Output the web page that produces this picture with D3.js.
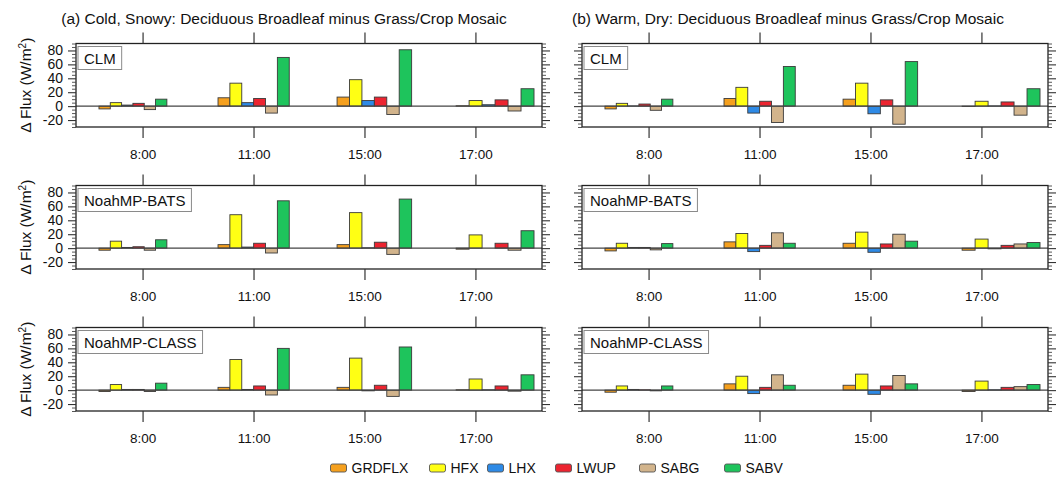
<!DOCTYPE html>
<html>
<head>
<meta charset="utf-8">
<script src="https://cdn.jsdelivr.net/npm/d3@7"></script>
<style>
  html, body { margin: 0; padding: 0; background: #fff; }
  svg { display: block; font-family: "Liberation Sans", Arial, Helvetica, sans-serif; }
</style>
</head>
<body>
<svg id="chart" width="1056" height="478"></svg>
<script>
// ---------------- DATA ----------------
const categories = ["8:00", "11:00", "15:00", "17:00"];
const seriesNames = ["GRDFLX", "HFX", "LHX", "LWUP", "SABG", "SABV"];
const seriesColors = ["#F5A01E", "#FFFF14", "#2E8AE6", "#EC2430", "#D2B48C", "#1EC45C"];
const models = ["CLM", "NoahMP-BATS", "NoahMP-CLASS"];
const panelTitles = [
  "(a) Cold, Snowy: Deciduous Broadleaf minus Grass/Crop Mosaic",
  "(b) Warm, Dry: Deciduous Broadleaf minus Grass/Crop Mosaic"
];
const yTickValues = [-20, 0, 20, 40, 60, 80];
const yDomain = [-30, 90];

// values: rows = series (GRDFLX, HFX, LHX, LWUP, SABG, SABV), columns = categories
const coldCLM = [
  [-4, 12, 13, 0.5],
  [5, 33, 38, 8],
  [1.5, 5, 8, 2],
  [4, 11, 13, 9],
  [-5, -10, -12, -7],
  [10, 70, 81, 25]
];
const coldBATS = [
  [-3, 5, 5, -1.5],
  [10, 48, 51, 19],
  [1, 1.5, 0.5, 0],
  [2, 7, 8.5, 7],
  [-3, -7, -9, -3],
  [12, 68, 70.5, 25]
];
const coldCLASS = [
  [-2, 4, 4, 0.5],
  [8, 44, 46, 16],
  [1, 1, -1, 0.5],
  [1, 6, 7, 6],
  [-2, -7, -9, -1.5],
  [10, 60, 62, 22]
];
const warmCLM = [
  [-4, 11, 10, -0.5],
  [4, 27, 33, 7],
  [0.3, -10, -11, 0.3],
  [3, 7, 9, 6],
  [-6, -23.5, -26, -13],
  [10, 57, 64, 25]
];
const warmBATS = [
  [-4, 9, 7, -3],
  [7, 21, 23, 13],
  [1, -5, -6, -1],
  [1, 4, 6, 4],
  [-2.5, 22, 20, 6],
  [6.5, 7, 10, 8]
];
const warmCLASS = [
  [-3, 9, 7, -2],
  [6, 20, 23, 13],
  [1, -5, -6, 0.5],
  [0.5, 4, 6, 4],
  [-1, 22, 21, 5],
  [6, 7, 9, 8]
];
const panelData = [
  [coldCLM, coldBATS, coldCLASS],
  [warmCLM, warmBATS, warmCLASS]
];

// ---------------- LAYOUT ----------------
const panelX = [76, 582];
const panelW = 466;
const rowY = [43.5, 185.5, 327.5];
const panelH = 83.5;
const xAxisDomain = [0.4, 4.6];          // categories sit at 1..4
const groupStart0 = 0.607, groupStep = 1.073;   // bar group layout (axis units)
const barW0 = 0.102, barWStep = 0.005;
const legendX = [330, 429, 487, 555, 639, 724];
const legendY = 468;

const svg = d3.select("#chart");
const font = '"Liberation Sans", Arial, Helvetica, sans-serif';

panelTitles.forEach((t, col) => {
  svg.append("text")
    .attr("x", col === 0 ? 284 : 788)
    .attr("y", 24)
    .attr("text-anchor", "middle")
    .attr("font-size", 15.5)
    .attr("fill", "#111")
    .text(t);
});

for (let col = 0; col < 2; col++) {
  for (let row = 0; row < 3; row++) {
    const x0 = panelX[col], y0 = rowY[row];
    const data = panelData[col][row];
    const g = svg.append("g");

    const x = d3.scaleLinear().domain(xAxisDomain).range([x0, x0 + panelW]);
    const y = d3.scaleLinear().domain(yDomain).range([y0 + panelH, y0]);

    // bars
    seriesNames.forEach((s, si) => {
      g.selectAll(null)
        .data(data[si].map((v, ci) => ({ v, ci })))
        .enter().append("rect")
        .attr("x", d => {
          const bw = barW0 + barWStep * d.ci;
          return x(groupStart0 + groupStep * d.ci + si * bw);
        })
        .attr("width", d => {
          const bw = barW0 + barWStep * d.ci;
          return x(xAxisDomain[0] + bw) - x(xAxisDomain[0]);
        })
        .attr("y", d => y(Math.max(0, d.v)))
        .attr("height", d => Math.abs(y(d.v) - y(0)))
        .attr("fill", seriesColors[si])
        .attr("stroke", "#3a3a3a")
        .attr("stroke-width", 0.9);
    });

    // zero line
    g.append("line")
      .attr("x1", x0).attr("x2", x0 + panelW)
      .attr("y1", y(0)).attr("y2", y(0))
      .attr("stroke", "#444").attr("stroke-width", 1.3);

    // frame
    g.append("rect")
      .attr("x", x0).attr("y", y0)
      .attr("width", panelW).attr("height", panelH)
      .attr("fill", "none").attr("stroke", "#222").attr("stroke-width", 1.3);

    // y axes (left and right), outward ticks, minor ticks every 5
    const minor = d3.range(-30, 91, 5).filter(v => !yTickValues.includes(v));
    const yLeft = d3.axisLeft(y).tickValues(yTickValues).tickSize(8).tickPadding(5)
      .tickFormat(col === 0 ? (d => String(d)) : () => "");
    const gl = g.append("g").attr("transform", `translate(${x0},0)`).call(yLeft);
    const yRight = d3.axisRight(y).tickValues(yTickValues).tickSize(8).tickFormat(() => "");
    const gr = g.append("g").attr("transform", `translate(${x0 + panelW},0)`).call(yRight);
    [gl, gr].forEach(a => {
      a.select(".domain").remove();
      a.selectAll(".tick line").attr("stroke", "#333").attr("stroke-width", 1.1);
      a.selectAll("text").attr("font-size", 14).attr("fill", "#111").attr("font-family", font);
    });
    g.append("g").attr("transform", `translate(${x0},0)`)
      .call(d3.axisLeft(y).tickValues(minor).tickSize(4).tickFormat(() => ""))
      .call(a => { a.select(".domain").remove(); a.selectAll("line").attr("stroke", "#444").attr("stroke-width", 0.9); });
    g.append("g").attr("transform", `translate(${x0 + panelW},0)`)
      .call(d3.axisRight(y).tickValues(minor).tickSize(4).tickFormat(() => ""))
      .call(a => { a.select(".domain").remove(); a.selectAll("line").attr("stroke", "#444").attr("stroke-width", 0.9); });

    // x axes top and bottom
    const xTicks = categories.map((c, i) => i + 1);
    const xb = g.append("g").attr("transform", `translate(0,${y0 + panelH})`)
      .call(d3.axisBottom(x).tickValues(xTicks).tickSize(11).tickPadding(11)
        .tickFormat(d => categories[d - 1]));
    const xt = g.append("g").attr("transform", `translate(0,${y0})`)
      .call(d3.axisTop(x).tickValues(xTicks).tickSize(11).tickFormat(() => ""));
    [xb, xt].forEach(a => {
      a.select(".domain").remove();
      a.selectAll(".tick line").attr("stroke", "#333").attr("stroke-width", 1.2);
      a.selectAll("text").attr("font-size", 13.5).attr("fill", "#111").attr("font-family", font);
    });

    // model label box
    const box = g.append("rect")
      .attr("x", x0 + 2).attr("y", y0 + 3)
      .attr("height", 23)
      .attr("fill", "#fff").attr("stroke", "#8a8a8a").attr("stroke-width", 1);
    const lbl = g.append("text")
      .attr("x", x0 + 8).attr("y", y0 + 20)
      .attr("font-size", 15).attr("fill", "#111")
      .text(models[row]);
    box.attr("width", lbl.node().getComputedTextLength() + 12);

    // y title
    if (col === 0) {
      const yt = svg.append("text")
        .attr("transform", `translate(26,${y0 + panelH / 2}) rotate(-90)`)
        .attr("text-anchor", "middle")
        .attr("dy", "0.35em")
        .attr("font-size", 15.5).attr("fill", "#111");
      yt.append("tspan").text("\u0394 Flux (W/m");
      yt.append("tspan").attr("font-size", 10).attr("dy", "-0.55em").text("2");
      yt.append("tspan").attr("dy", "0.37em").text(")");
    }
  }
}

// legend
seriesNames.forEach((s, i) => {
  const lg = svg.append("g").attr("transform", `translate(${legendX[i]},${legendY})`);
  lg.append("rect").attr("x", 0.5).attr("y", -4).attr("width", 16).attr("height", 8)
    .attr("rx", 2).attr("fill", seriesColors[i]).attr("stroke", "#555").attr("stroke-width", 0.9);
  lg.append("text").attr("x", 21.5).attr("y", 5).attr("font-size", 14).attr("fill", "#111").text(s);
});
</script>
</body>
</html>
